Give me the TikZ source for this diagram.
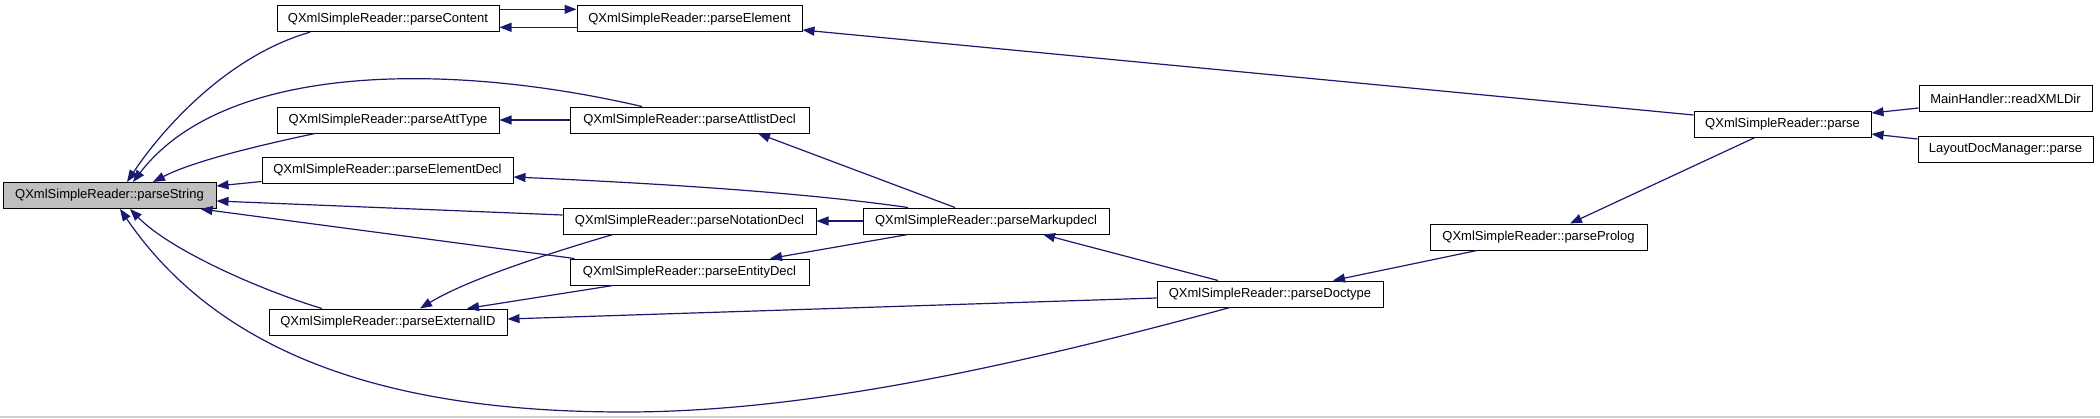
\documentclass[tikz,border=0pt]{standalone}
\usepackage{fontspec}
\setmainfont{Liberation Sans}
\usetikzlibrary{arrows.meta}
\definecolor{navyc}{HTML}{191970}
\definecolor{hilite}{HTML}{BFBFBF}
\begin{document}
\begin{tikzpicture}[x=1pt,y=-1pt,
  fn/.style={draw=black, line width=1pt, minimum height=26pt, inner sep=0pt, font=\fontsize{13}{15}\selectfont},
  calls/.style={draw=navyc, line width=1.2pt, -{Triangle[length=12pt,width=9pt]}}]
\useasboundingbox (0,0) rectangle (2100,418);
\fill[black!18] (0,416.3) rectangle (2100,418);
% nodes
\node[fn, fill=hilite, minimum width=213pt] (ps) at (109.5,195.5) {QXmlSimpleReader::parseString};
\node[fn, minimum width=222pt] (pc) at (388,18.7) {QXmlSimpleReader::parseContent};
\node[fn, minimum width=225pt] (pe) at (689.5,18.7) {QXmlSimpleReader::parseElement};
\node[fn, minimum width=222pt] (pat) at (388,120) {QXmlSimpleReader::parseAttType};
\node[fn, minimum width=239pt] (pad) at (689.5,120) {QXmlSimpleReader::parseAttlistDecl};
\node[fn, minimum width=251pt] (ped) at (387.5,170.5) {QXmlSimpleReader::parseElementDecl};
\node[fn, minimum width=253pt] (pnd) at (689.5,221) {QXmlSimpleReader::parseNotationDecl};
\node[fn, minimum width=246pt] (pmd) at (986,221) {QXmlSimpleReader::parseMarkupdecl};
\node[fn, minimum width=239pt] (pend) at (689.5,272) {QXmlSimpleReader::parseEntityDecl};
\node[fn, minimum width=238pt] (pei) at (388,322) {QXmlSimpleReader::parseExternalID};
\node[fn, minimum width=226pt] (pdt) at (1270,294) {QXmlSimpleReader::parseDoctype};
\node[fn, minimum width=217pt] (ppl) at (1538.5,237) {QXmlSimpleReader::parseProlog};
\node[fn, minimum width=177pt] (pp) at (1782.5,124) {QXmlSimpleReader::parse};
\node[fn, minimum width=173pt] (rx) at (2005.5,98.5) {MainHandler::readXMLDir};
\node[fn, minimum width=175pt] (ldm) at (2005.5,149) {LayoutDocManager::parse};
% edges into parseString
\draw[calls] ([xshift=-78pt]pc.south) .. controls (230,55) and (165,125) .. ([xshift=17.5pt]ps.north);
\draw[calls] ([xshift=-47.5pt]pad.north) .. controls (450,62) and (225,62) .. ([xshift=23.5pt]ps.north);
\draw[calls] ([xshift=-73pt]pat.south) .. controls (270,143) and (195,160) .. ([xshift=43.5pt]ps.north);
\draw[calls] ([yshift=-11pt]ped.west) -- ([yshift=9.5pt]ps.east);
\draw[calls] ([yshift=6pt]pnd.west) -- ([yshift=-5.5pt]ps.east);
\draw[calls] ([xshift=5pt]pend.north west) -- ([xshift=-16pt]ps.south east);
\draw[calls] ([xshift=-66pt]pei.north) .. controls (260,290) and (170,250) .. ([xshift=20.5pt]ps.south);
\draw[calls] ([xshift=-40pt]pdt.south) .. controls (1000,370) and (800,412) .. (625,412)
  .. controls (420,412) and (230,370) .. ([xshift=10.5pt]ps.south);
% parseContent <-> parseElement
\draw[calls] ([yshift=9.4pt]pc.east) -- ([yshift=9.4pt]pe.west);
\draw[calls] ([yshift=-8.6pt]pe.west) -- ([yshift=-8.6pt]pc.east);
\draw[calls] ([yshift=9pt]pp.west) -- ([yshift=-11.3pt]pe.east);
% attlist / markup
\draw[calls] (pad.west) -- (pat.east);
\draw[calls] ([xshift=-31pt]pmd.north) -- ([xshift=68.5pt]pad.south);
\draw[calls] ([xshift=-78pt]pmd.north) .. controls (800,192) and (650,183) .. ([yshift=-6.5pt]ped.east);
\draw[calls] (pmd.west) -- (pnd.east);
\draw[calls] ([xshift=-78pt]pmd.south) -- ([xshift=80.5pt]pend.north);
\draw[calls] ([xshift=-76.5pt]pnd.south) .. controls (560,250) and (470,278) .. ([xshift=32pt]pei.north);
\draw[calls] ([xshift=-76.5pt]pend.south) -- ([xshift=79pt]pei.north);
\draw[calls] ([yshift=-4pt]pdt.west) -- ([yshift=3pt]pei.east);
\draw[calls] ([xshift=-52pt]pdt.north) -- ([xshift=57pt]pmd.south);
\draw[calls] ([xshift=-61.5pt]ppl.south) -- ([xshift=63pt]pdt.north);
\draw[calls] ([xshift=-27.5pt]pp.south) -- ([xshift=31.5pt]ppl.north);
\draw[calls] ([yshift=-9.5pt]rx.west) -- ([yshift=11pt]pp.east);
\draw[calls] ([yshift=10pt]ldm.west) -- ([yshift=-10pt]pp.east);
\end{tikzpicture}
\end{document}
